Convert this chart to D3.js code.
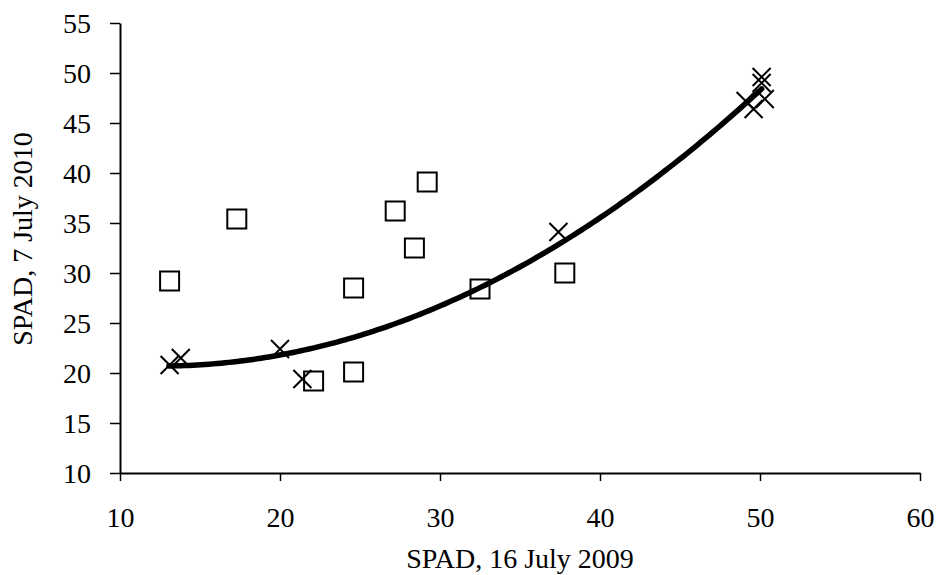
<!DOCTYPE html>
<html>
<head>
<meta charset="utf-8">
<script src="https://cdn.jsdelivr.net/npm/d3@7"></script>
<style>
  html, body { margin: 0; padding: 0; background: #fff; }
  svg { display: block; }
  text { font-family: "Liberation Serif", "Times New Roman", serif; fill: #000; }
</style>
</head>
<body>
<svg id="chart" width="941" height="575"></svg>
<script>
// ---- data ----
const squaresX = [13.1, 17.3, 24.6, 24.6, 22.1, 27.2, 28.4, 29.2, 32.5, 37.8];
const squaresY = [29.2, 35.4, 28.5, 20.1, 19.2, 36.2, 32.5, 39.1, 28.4, 30.0];
const crossesX = [13.1, 13.8, 20.0, 21.4, 37.4, 50.1, 50.1, 50.3, 49.1, 49.6];
const crossesY = [20.8, 21.5, 22.4, 19.4, 34.1, 49.6, 49.0, 47.4, 47.2, 46.4];
// quadratic trend line y = a + b x + c x^2, coefficients
const trendCoef = [23.76, -0.49, 0.0196];
const trendRange = [13.06, 50.1];
const xTicks = [10, 20, 30, 40, 50, 60];
const yTicks = [10, 15, 20, 25, 30, 35, 40, 45, 50, 55];
const xLabel = "SPAD, 16 July 2009";
const yLabel = "SPAD, 7 July 2010";

(function () {
const svg = d3.select("#chart");
const mLeft = 120, mRight = 920, mTop = 23, mBottom = 473;
const x = d3.scaleLinear().domain([10, 60]).range([mLeft, mRight]);
const y = d3.scaleLinear().domain([10, 55]).range([mBottom, mTop]);

// axes
const xAxis = svg.append("g").attr("transform", `translate(0,${mBottom})`)
  .call(d3.axisBottom(x).tickValues(xTicks).tickSizeInner(8).tickSizeOuter(0).tickPadding(26));
const yAxis = svg.append("g").attr("transform", `translate(${mLeft},0)`)
  .call(d3.axisLeft(y).tickValues(yTicks).tickSizeInner(10).tickSizeOuter(0).tickPadding(19));
[xAxis, yAxis].forEach(g => {
  g.select(".domain").attr("stroke", "#000").attr("stroke-width", 2);
  g.selectAll(".tick line").attr("stroke", "#000").attr("stroke-width", 1.5);
  g.selectAll(".tick text").style("font-family", '"Liberation Serif", "Times New Roman", serif')
    .style("font-size", "28px").attr("fill", "#000");
});
xAxis.selectAll(".tick text").attr("dy", "0.71em");
yAxis.selectAll(".tick text").attr("dy", "0.34em");

// axis titles
svg.append("text").attr("x", (mLeft + mRight) / 2).attr("y", 568)
  .attr("text-anchor", "middle").style("font-size", "28px").text(xLabel);
svg.append("text").attr("transform", "translate(32,239) rotate(-90)")
  .attr("text-anchor", "middle").style("font-size", "28px").text(yLabel);

// trend line
const trendXs = d3.range(trendRange[0], trendRange[1], 0.25).concat([trendRange[1]]);
const trendFn = v => trendCoef[0] + trendCoef[1] * v + trendCoef[2] * v * v;
svg.append("path")
  .datum(trendXs)
  .attr("fill", "none").attr("stroke", "#000").attr("stroke-width", 5.5)
  .attr("stroke-linecap", "round")
  .attr("d", d3.line().x(d => x(d)).y(d => y(trendFn(d))));

// square markers
const sq = 19;
svg.append("g").selectAll("rect")
  .data(squaresX.map((v, i) => [v, squaresY[i]]))
  .join("rect")
  .attr("x", d => x(d[0]) - sq / 2).attr("y", d => y(d[1]) - sq / 2)
  .attr("width", sq).attr("height", sq)
  .attr("fill", "none").attr("stroke", "#000").attr("stroke-width", 2);

// cross markers
const cr = 9;
svg.append("g").selectAll("path")
  .data(crossesX.map((v, i) => [v, crossesY[i]]))
  .join("path")
  .attr("d", d => {
    const cx = x(d[0]), cy = y(d[1]);
    return `M${cx - cr},${cy - cr}L${cx + cr},${cy + cr}M${cx - cr},${cy + cr}L${cx + cr},${cy - cr}`;
  })
  .attr("fill", "none").attr("stroke", "#000").attr("stroke-width", 2);
})();
</script>
</body>
</html>
